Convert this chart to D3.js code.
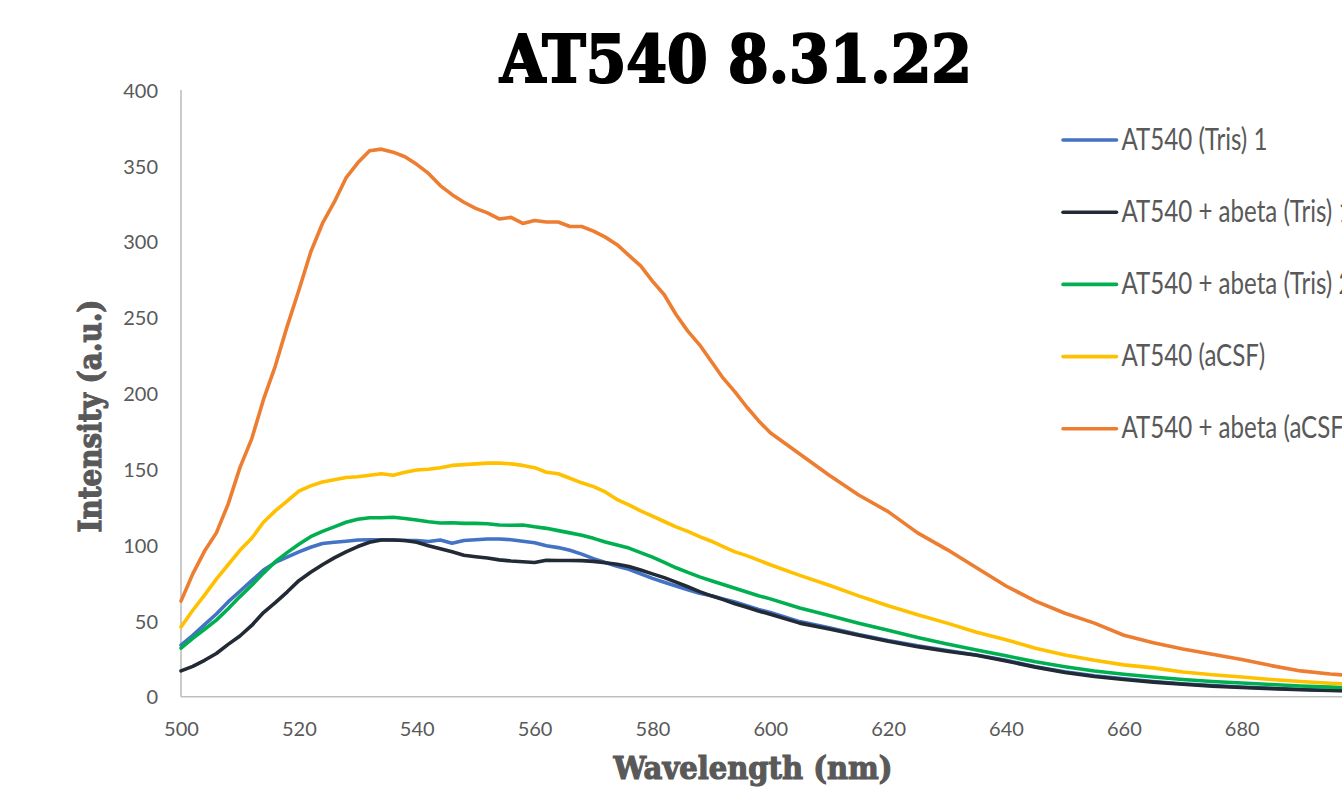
<!DOCTYPE html>
<html><head><meta charset="utf-8">
<script src="https://cdn.jsdelivr.net/npm/d3@7"></script>
<style>body{margin:0;background:#fff;overflow:hidden}svg{display:block}</style>
</head><body><svg id="c" width="1342" height="788"></svg>
<script>
const titleText = "AT540 8.31.22";
const xTitle = "Wavelength (nm)";
const yTitle = "Intensity (a.u.)";
const xTicks = [500,520,540,560,580,600,620,640,660,680];
const yTicks = [0,50,100,150,200,250,300,350,400];
const wavelengths = [500,502,504,506,508,510,512,514,516,518,520,522,524,526,528,530,532,534,536,538,540,542,544,546,548,550,552,554,556,558,560,562,564,566,568,570,572,574,576,578,580,582,584,586,588,590,592,594,596,598,600,605,610,615,620,625,630,635,640,645,650,655,660,665,670,675,680,685,690,695,700];
const seriesNames = ["AT540 (Tris) 1","AT540 + abeta (Tris) 1","AT540 + abeta (Tris) 2","AT540 (aCSF)","AT540 + abeta (aCSF)"];
const seriesColors = ["#4472C4","#222A35","#00B050","#FFC000","#ED7D31"];
const tris1 = [34,40.5,47.5,54.5,62.5,69.5,76.5,83.5,88.5,92,95.5,98.5,101,101.8,102.5,103.3,103.5,103.5,103.3,103,102.9,102.3,103.3,101.2,103,103.5,104,104,103.5,102.5,101.5,99.5,98.3,96.5,94,91,88.5,86,84,81,78,75.5,73,70.5,68.2,66.5,64.5,62.5,60,57.5,55.5,49.5,45.5,41,37,33.5,30.5,27.5,24,19.8,16.5,13.8,11.8,10,8.5,7.4,6.4,5.6,4.9,4.3,3.9];
const abetaTris1 = [17,20,24,28.5,34.5,40,47,55.5,62,69,76.5,82,87,91.5,95.5,99,101.8,103.3,103.3,103,101.8,99.5,97.5,95.5,93.3,92.3,91.4,90.2,89.5,89,88.5,90,89.8,89.8,89.7,89.2,88.3,87.3,85.8,83.5,81,78.5,75.5,72.5,69.3,66.5,64,61.3,59,56.5,54.3,48.5,44.6,40.5,36.5,33,30,27.3,23.5,19.5,16,13.3,11.3,9.6,8.2,7,6.1,5.3,4.6,4.1,3.7];
const abetaTris2 = [32,38.5,44.5,50.5,58,66,73.5,81.5,89,95,100.5,105.5,109,112,115,117,118,118,118.3,117.5,116.5,115.3,114.5,114.7,114.3,114.3,114,113.2,113,113.2,112,111,109.5,108,106.5,104.4,102,100,98,95,92,88.5,85,82,79,76.5,74,71.5,69,66.5,64.5,58.5,53.5,48.5,43.8,39,34.8,30.8,27,23,19.8,17,14.8,13,11.3,10,9,8,7.1,6.3,5.7];
const aCSF = [46,57,67,77.5,87,96.5,104.5,115,122.5,129,135.5,139,141.5,143,144.5,145,146,147,146,148,149.5,150,151,152.5,153,153.5,154,154,153.5,152.5,151,148,147,144,141,138.5,135,130,126.5,122.5,119,115.5,112,109,105.5,102.5,99,95.5,93,90,87,80,73.5,66.5,60,54,48.5,42.5,37.5,32,27.5,24,21,19,16.3,14.5,13,11.3,10,8.9,8];
const abetaACSF = [63,81,96,108,127,151,170,196,218,244,268,293,312,326,342,352,360,361,359,356,351,345,337,331,326,322,319,315,316,312,314,313,313,310,310,307,303,298,291,284,274,265,252,241,232,221,210,201,191,182,174,160,146,133,122,108,97,85,73,63,55,48.5,40.5,35.5,31.5,28,24.5,20.5,17,15,13.5];
const seriesValues = [tris1, abetaTris1, abetaTris2, aCSF, abetaACSF];

const W = 1342, H = 788;
const svg = d3.select("#c");
svg.append("rect").attr("width",W).attr("height",H).attr("fill","#fff");

const x = d3.scaleLinear().domain([500,700]).range([181,1359.6]);
const y = d3.scaleLinear().domain([0,400]).range([696.7,90]);

const gx = svg.append("g").attr("transform","translate(0,696.7)")
  .call(d3.axisBottom(x).tickValues(xTicks).tickSize(0).tickPadding(0).tickFormat(d3.format("d")));
gx.select(".domain").attr("d",`M181,0H${W}`).attr("stroke","#BFBFBF").attr("stroke-width",1.6);
gx.selectAll(".tick text").attr("dy",null).attr("y",39).attr("fill","#595959")
  .attr("font-family","Lato").attr("font-size",20);

const gy = svg.append("g").attr("transform","translate(181,0)")
  .call(d3.axisLeft(y).tickValues(yTicks).tickSize(0).tickPadding(0).tickFormat(d3.format("d")));
gy.select(".domain").attr("d",`M0,90V696.7`).attr("stroke","#BFBFBF").attr("stroke-width",1.6);
gy.selectAll(".tick text").attr("x",-23).attr("dy","0.36em").attr("fill","#595959")
  .attr("font-family","Lato").attr("font-size",20);

svg.append("clipPath").attr("id","pc").append("rect").attr("x",170).attr("y",60).attr("width",W-170).attr("height",660);
const line = d3.line().x((d,i)=>x(wavelengths[i])).y(d=>y(d));
const lg = svg.append("g").attr("clip-path","url(#pc)");
seriesValues.forEach((vals,k)=>{
  lg.append("path").datum(vals).attr("d",line).attr("fill","none")
    .attr("stroke",seriesColors[k]).attr("stroke-width",3.6)
    .attr("stroke-linejoin","round").attr("stroke-linecap","round");
});

svg.append("text").attr("x",500).attr("y",82).text(titleText)
  .attr("font-family","DejaVu Serif").attr("font-weight","bold").attr("font-size",66)
  .attr("fill","#000").attr("stroke","#000").attr("stroke-width",2.2)
  .attr("textLength",472).attr("lengthAdjust","spacingAndGlyphs");

svg.append("text").attr("transform","translate(101,416) rotate(-90)").attr("text-anchor","middle")
  .text(yTitle).attr("font-family","DejaVu Serif").attr("font-weight","bold").attr("font-size",32)
  .attr("fill","#595959").attr("stroke","#595959").attr("stroke-width",1.2)
  .attr("textLength",233).attr("lengthAdjust","spacingAndGlyphs");
svg.append("text").attr("x",753).attr("y",779).attr("text-anchor","middle")
  .text(xTitle).attr("font-family","DejaVu Serif").attr("font-weight","bold").attr("font-size",32)
  .attr("fill","#595959").attr("stroke","#595959").attr("stroke-width",1.2)
  .attr("textLength",279).attr("lengthAdjust","spacingAndGlyphs");

const leg = svg.append("g");
const probe = leg.append("text").attr("font-family","Lato").attr("font-size",31.5).text(seriesNames[0]);
const sx = 146 / probe.node().getComputedTextLength();
probe.remove();
seriesNames.forEach((name,k)=>{
  const ly = 140 + k*72.2;
  leg.append("line").attr("x1",1063).attr("x2",1116.5).attr("y1",ly).attr("y2",ly)
    .attr("stroke",seriesColors[k]).attr("stroke-width",3.6).attr("stroke-linecap","round");
  leg.append("text").attr("transform",`translate(1121.5,${ly+9.5}) scale(${sx},1)`)
    .attr("font-family","Lato").attr("font-size",31.5).attr("fill","#595959").text(name);
});
</script></body></html>
